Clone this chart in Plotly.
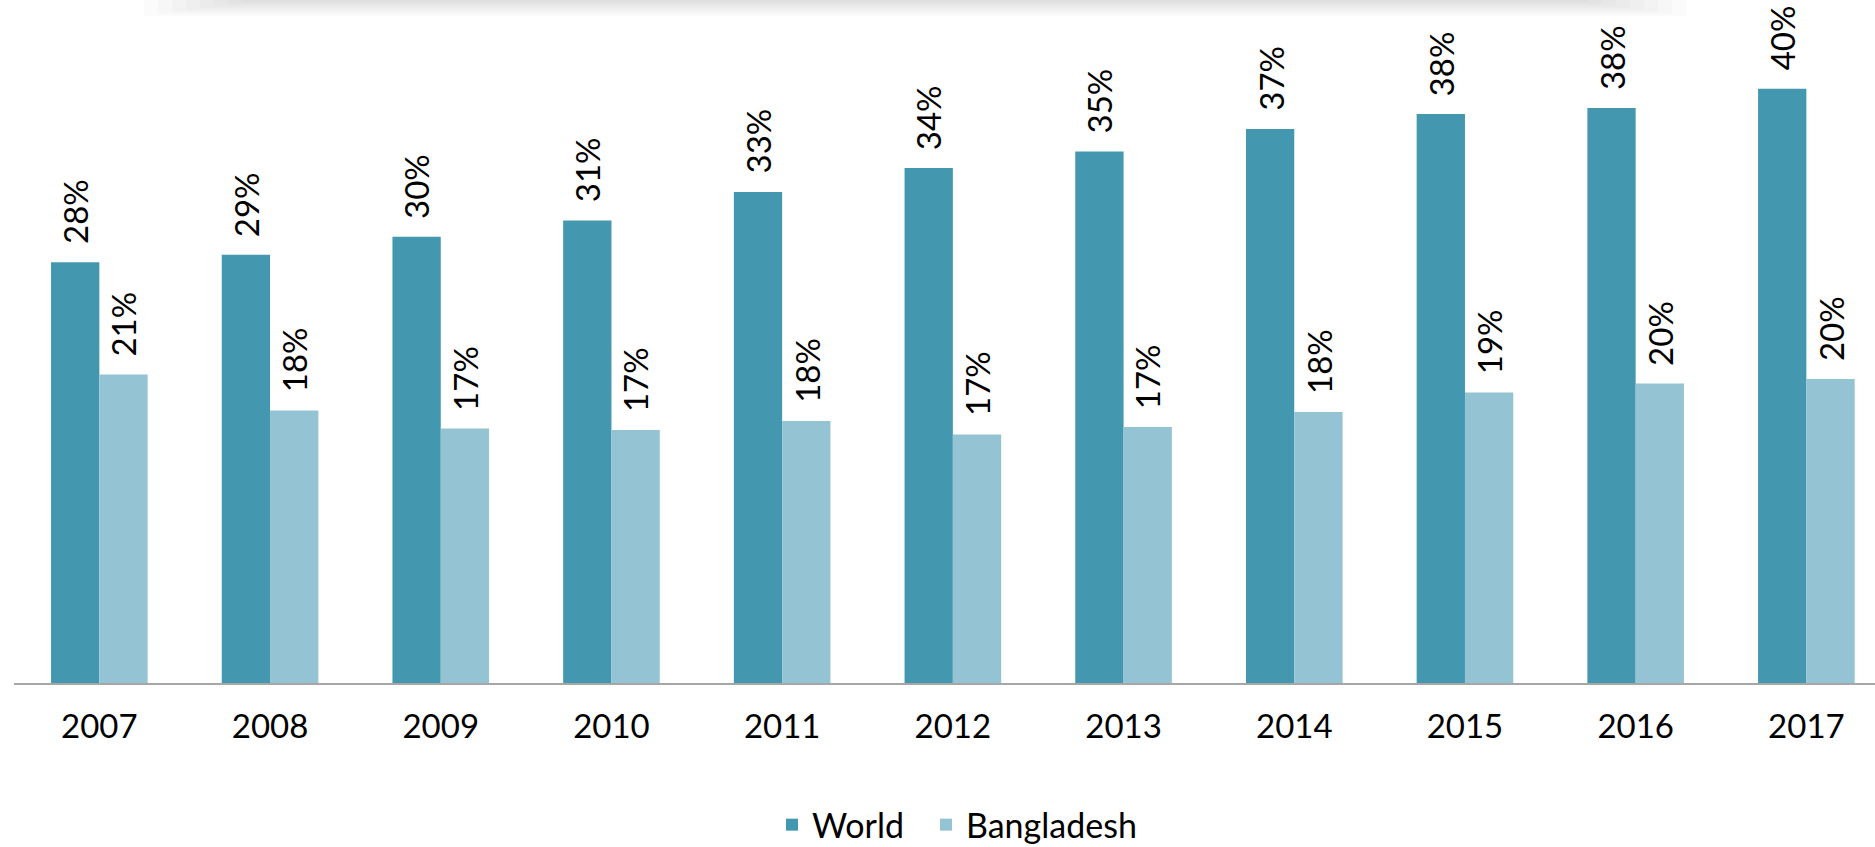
import plotly.graph_objects as go

years = ['2007', '2008', '2009', '2010', '2011', '2012', '2013', '2014', '2015', '2016', '2017']
world = [28.1, 28.6, 29.8, 30.9, 32.8, 34.4, 35.5, 37.0, 38.0, 38.4, 39.7]
bangladesh = [20.6, 18.2, 17.0, 16.9, 17.5, 16.6, 17.1, 18.1, 19.4, 20.0, 20.3]
world_labels = ['28%', '29%', '30%', '31%', '33%', '34%', '35%', '37%', '38%', '38%', '40%']
bangladesh_labels = ['21%', '18%', '17%', '17%', '18%', '17%', '17%', '18%', '19%', '20%', '20%']

FONT = 'Lato'
WORLD_COLOR = '#4398b0'
BD_COLOR = '#94c4d4'

fig = go.Figure()
fig.add_trace(go.Bar(x=years, y=world, name='World', legend='legend',
                     marker=dict(color=WORLD_COLOR, line=dict(width=0))))
fig.add_trace(go.Bar(x=years, y=bangladesh, name='Bangladesh', legend='legend2',
                     marker=dict(color=BD_COLOR, line=dict(width=0))))

annotations = []
for series, labels, shift in [(world, world_labels, -24.15), (bangladesh, bangladesh_labels, 24.15)]:
    for i, (v, lab) in enumerate(zip(series, labels)):
        annotations.append(dict(
            x=i, y=v, xref='x', yref='y', text=lab, showarrow=False,
            textangle=-90, xanchor='center', yanchor='bottom',
            xshift=shift, yshift=16,
            font=dict(family=FONT, size=33, color='#000000'),
        ))

# soft drop shadow at the top edge of the page
shapes = []
n = 8
for i in range(n):
    h = (i + 1) * 2.0
    inset = (n - i) * 14
    shapes.append(dict(
        type='rect', xref='paper', yref='paper', layer='above',
        x0=(130 + inset - 14) / 1861, x1=(1700 - inset - 14) / 1861,
        y0=1 - h / 683, y1=1,
        fillcolor='rgba(0,0,0,0.014)', line=dict(width=0),
    ))

legend_common = dict(
    orientation='h', y=-0.208, yanchor='middle', xanchor='left',
    font=dict(family=FONT, size=34, color='#000000'),
    bgcolor='rgba(0,0,0,0)',
)

fig.update_layout(
    width=1875, height=847,
    margin=dict(l=14, r=0, t=0, b=164, pad=0, autoexpand=False),
    paper_bgcolor='white', plot_bgcolor='white',
    barmode='group', bargap=0.434, bargroupgap=0,
    font=dict(family=FONT, color='#000000'),
    xaxis=dict(
        type='category', range=[-0.5, 10.402],
        showline=True, linecolor='#a6a6a6', linewidth=2,
        showgrid=False, zeroline=False,
        ticks='', ticklabelstandoff=13,
        tickfont=dict(family=FONT, size=33, color='#000000'),
    ),
    yaxis=dict(range=[0, 45.62], visible=False, showgrid=False, zeroline=False),
    legend=dict(legend_common, x=(772 - 14) / 1861),
    legend2=dict(legend_common, x=(926 - 14) / 1861),
    showlegend=True,
    annotations=annotations,
    shapes=shapes,
)

fig.write_html('out.html', config={'displayModeBar': False},
               post_script="document.body.style.margin='0';document.body.style.overflow='hidden';")
